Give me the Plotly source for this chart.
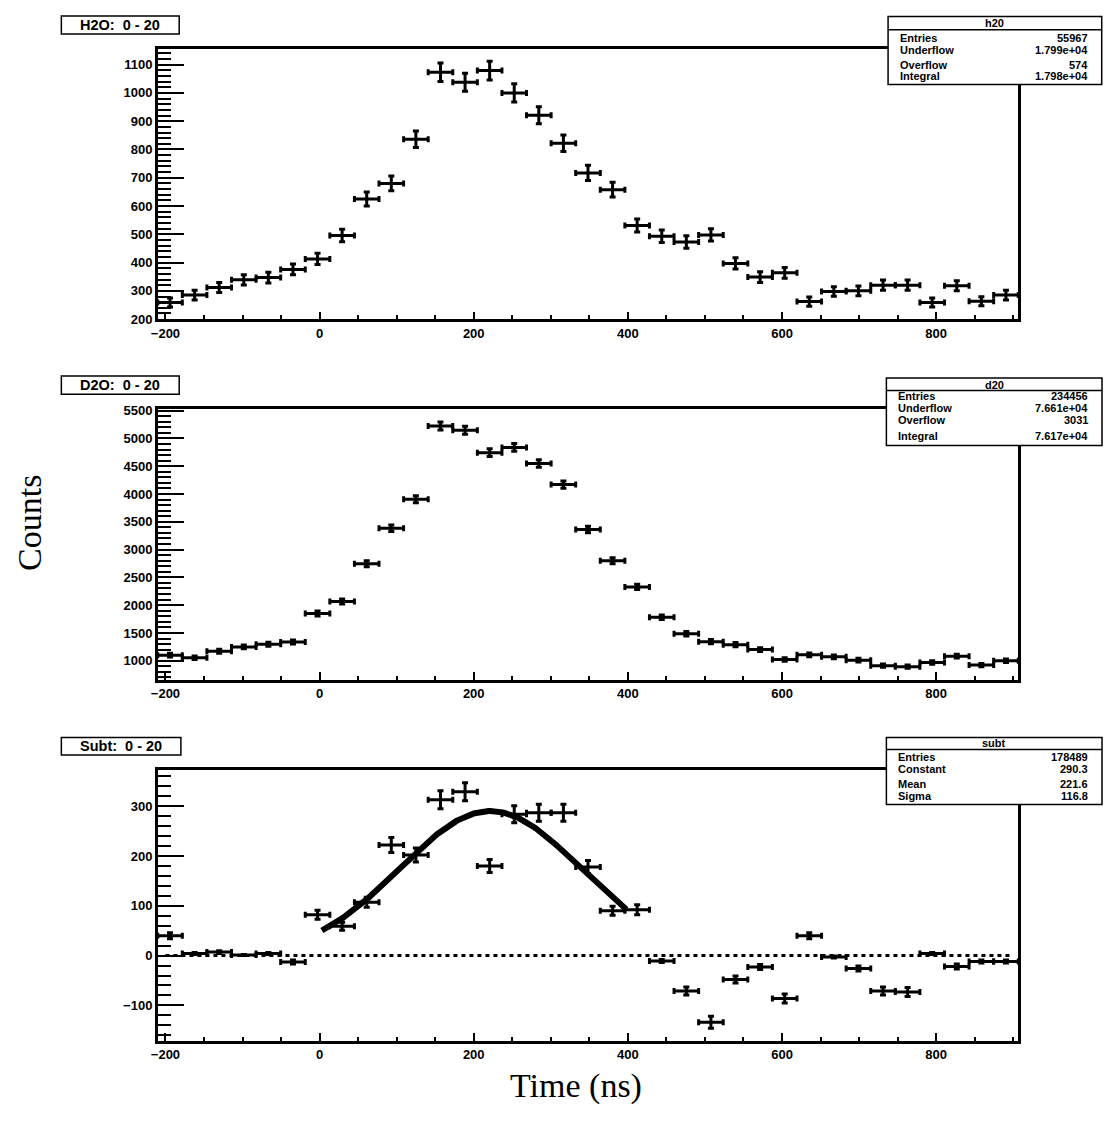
import numpy as np
import plotly.graph_objects as go

W, H = 1104, 1139

# ---------------- data ----------------
BIN_LOW = -210.0
BIN_WIDTH = 31.9
N_BINS = 35

h20_counts = [259, 285, 312, 339, 347, 376, 413, 496, 625, 680, 836, 1073, 1038, 1079, 1000,
              921, 822, 717, 658, 531, 493, 473, 498, 397, 349, 364, 262, 298, 300, 320,
              320, 259, 318, 263, 285]
h20_errors = [16, 17, 18, 18, 19, 19, 20, 22, 25, 26, 29, 33, 32, 33, 32,
              30, 29, 27, 26, 23, 22, 22, 22, 20, 19, 19, 16, 17, 17, 18,
              18, 16, 18, 16, 17]

d20_counts = [1100, 1053, 1171, 1249, 1296, 1338, 1850, 2068, 2745, 3385, 3907, 5225, 5148, 4744, 4838,
              4548, 4169, 3361, 2798, 2328, 1783, 1486, 1343, 1290, 1201, 1023, 1106, 1071, 1011, 911,
              893, 970, 1082, 922, 1000]
d20_errors = [33, 32, 34, 35, 36, 37, 43, 45, 52, 58, 63, 72, 72, 69, 70,
              67, 65, 58, 53, 48, 42, 39, 37, 36, 35, 32, 33, 33, 32, 30,
              30, 31, 33, 30, 32]

subt_counts = [40, 4, 7, 1, 4, -13, 82, 59, 107, 222, 202, 313, 329, 180, 284,
               287, 287, 178, 90, 92, -11, -71, -134, -48, -23, -86, 40, -3, -26, -71,
               -73, 4, -22, -12, -12]
subt_errors = [6, 2, 3, 1, 2, 4, 9, 8, 10, 15, 14, 18, 18, 13, 17,
               17, 17, 13, 9, 10, 3, 8, 12, 7, 5, 9, 6, 2, 5, 8,
               9, 2, 5, 3, 3]

# Gaussian fit result (from stats box)
FIT_CONSTANT = 290.3
FIT_MEAN = 221.6
FIT_SIGMA = 116.8
FIT_RANGE = [3, 398]

ZERO_LINE_X = [-200, 900]

pad_titles = ["H2O:\u00a0\u00a00 - 20", "D2O:\u00a0\u00a00 - 20", "Subt:\u00a0\u00a00 - 20"]
stat_names = ["h20", "d20", "subt"]
stat_labels = [["Entries", "Underflow", "Overflow", "Integral"],
               ["Entries", "Underflow", "Overflow", "Integral"],
               ["Entries", "Constant", "Mean", "Sigma"]]
stat_values = [["55967", "1.799e+04", "574", "1.798e+04"],
               ["234456", "7.661e+04", "3031", "7.617e+04"],
               ["178489", "290.3", "221.6", "116.8"]]

y_ranges = [[199.5, 1156], [655, 5528], [-171, 373]]
y_dticks = [100, 500, 100]
y_minor = [20, 100, 20]
x_range = [BIN_LOW, BIN_LOW + N_BINS * BIN_WIDTH]
X_DTICK, X_MINOR = 200, 50

# ---------------- layout geometry (pixels) ----------------
def px(x):
    return x / W

def py(y):
    return 1 - y / H

frame_x = [151.7, 1017.7]
frame_y = [[43.3, 316.9], [407.7, 681.7], [772.7, 1046.7]]   # top, bottom
title_boxes = [[54.7, 10.0, 173.3, 28.3], [54.7, 374.3, 173.3, 392.7], [54.7, 740.0, 175.0, 757.7]]
stat_boxes = [[886.7, 10.7, 1101.7, 79.3], [885.0, 376.3, 1102.0, 444.7], [885.0, 740.0, 1102.0, 807.7]]
stat_sep = [24.0, 389.0, 752.0]
stat_title_y = [17.5, 383.0, 746.0]
stat_row_y = [[32.0, 44.3, 59.3, 70.7], [394.0, 406.5, 419.0, 434.5], [760.0, 771.7, 786.7, 798.7]]

x_centers = BIN_LOW + BIN_WIDTH * (np.arange(N_BINS) + 0.5)

fig = go.Figure()

series = [(h20_counts, h20_errors), (d20_counts, d20_errors), (subt_counts, subt_errors)]
tickfont = dict(family="Liberation Sans, Arial, sans-serif", size=13, color="black", weight="bold")

def ax_id(letter, n):
    return letter if n == 1 else f"{letter}{n}"

for i, (vals, errs) in enumerate(series):
    fig.add_trace(go.Scatter(
        x=x_centers, y=vals, mode="markers",
        marker=dict(size=1, color="black"),
        error_x=dict(type="constant", value=BIN_WIDTH / 2, thickness=3, width=3, color="black"),
        error_y=dict(type="data", array=errs, thickness=3, width=3, color="black"),
        xaxis=ax_id("x", i + 1), yaxis=ax_id("y", i + 1), showlegend=False, hoverinfo="x+y"))
    # invisible anchor trace for the minor-tick overlay axes
    fig.add_trace(go.Scatter(
        x=[x_centers[0]], y=[vals[0]], mode="markers", marker=dict(size=1, opacity=0),
        xaxis=ax_id("x", i + 4), yaxis=ax_id("y", i + 4), showlegend=False, hoverinfo="skip"))

# zero line in subtraction pad
fig.add_trace(go.Scatter(x=ZERO_LINE_X, y=[0, 0], mode="lines",
                         line=dict(color="black", width=3, dash="4px,4px"),
                         xaxis="x3", yaxis="y3", showlegend=False, hoverinfo="skip"))

# gaussian fit curve
fx = np.linspace(FIT_RANGE[0], FIT_RANGE[1], 200)
fy = FIT_CONSTANT * np.exp(-0.5 * ((fx - FIT_MEAN) / FIT_SIGMA) ** 2)
fig.add_trace(go.Scatter(x=fx, y=fy, mode="lines", line=dict(color="black", width=6),
                         xaxis="x3", yaxis="y3", showlegend=False))

layout = dict(width=W, height=H, margin=dict(l=0, r=0, t=0, b=0),
              paper_bgcolor="white", plot_bgcolor="white", showlegend=False)

for i in range(3):
    n = i + 1
    m = i + 4
    top, bot = frame_y[i]
    layout["xaxis" + ("" if n == 1 else str(n))] = dict(
        domain=[px(frame_x[0]), px(frame_x[1])], anchor=ax_id("y", n), range=x_range,
        tickmode="linear", tick0=0, dtick=X_DTICK,
        ticks="inside", ticklen=8, tickwidth=2, tickcolor="black",
        showline=True, linewidth=2.5, linecolor="black", mirror=True,
        showgrid=False, zeroline=False, tickfont=tickfont)
    layout["yaxis" + ("" if n == 1 else str(n))] = dict(
        domain=[py(bot), py(top)], anchor=ax_id("x", n), range=y_ranges[i],
        tickmode="linear", tick0=0, dtick=y_dticks[i],
        ticks="inside", ticklen=27, tickwidth=2, tickcolor="black",
        showline=True, linewidth=2.5, linecolor="black", mirror=True,
        showgrid=False, zeroline=False, tickfont=tickfont)
    # overlay axes carrying the minor ticks
    layout[f"xaxis{m}"] = dict(
        overlaying=ax_id("x", n), anchor=f"y{m}", side="bottom", range=x_range,
        tickmode="linear", tick0=0, dtick=X_MINOR,
        ticks="inside", ticklen=4, tickwidth=2, tickcolor="black",
        showticklabels=False, showline=False, showgrid=False, zeroline=False)
    layout[f"yaxis{m}"] = dict(
        overlaying=ax_id("y", n), anchor=f"x{m}", side="left", range=y_ranges[i],
        tickmode="linear", tick0=0, dtick=y_minor[i],
        ticks="inside", ticklen=13, tickwidth=2, tickcolor="black",
        showticklabels=False, showline=False, showgrid=False, zeroline=False)

shapes = []
annotations = []
sfont = dict(family="Liberation Sans, Arial, sans-serif", size=11, color="black", weight="bold")
for i in range(3):
    x0, y0, x1, y1 = title_boxes[i]
    shapes.append(dict(type="rect", xref="paper", yref="paper", x0=px(x0), x1=px(x1), y0=py(y1), y1=py(y0),
                       fillcolor="white", line=dict(color="black", width=1.5), layer="above"))
    annotations.append(dict(xref="paper", yref="paper", x=px((x0 + x1) / 2), y=py((y0 + y1) / 2),
                            text=pad_titles[i], showarrow=False, xanchor="center", yanchor="middle",
                            font=dict(family="Liberation Sans, Arial, sans-serif", size=14.5,
                                      color="black", weight="bold")))
    x0, y0, x1, y1 = stat_boxes[i]
    shapes.append(dict(type="rect", xref="paper", yref="paper", x0=px(x0), x1=px(x1), y0=py(y1), y1=py(y0),
                       fillcolor="white", line=dict(color="black", width=1.5), layer="above"))
    shapes.append(dict(type="line", xref="paper", yref="paper", x0=px(x0), x1=px(x1),
                       y0=py(stat_sep[i]), y1=py(stat_sep[i]), line=dict(color="black", width=1.5),
                       layer="above"))
    annotations.append(dict(xref="paper", yref="paper", x=px((x0 + x1) / 2), y=py(stat_title_y[i]),
                            text=stat_names[i], showarrow=False, xanchor="center", yanchor="middle",
                            font=sfont))
    for lab, val, ry in zip(stat_labels[i], stat_values[i], stat_row_y[i]):
        annotations.append(dict(xref="paper", yref="paper", x=px(x0 + 10), y=py(ry), text=lab,
                                showarrow=False, xanchor="left", yanchor="middle", font=sfont))
        annotations.append(dict(xref="paper", yref="paper", x=px(x1 - 12), y=py(ry), text=val,
                                showarrow=False, xanchor="right", yanchor="middle", font=sfont))

serif = dict(family="Liberation Serif, Times New Roman, serif", size=34, color="black")
annotations.append(dict(xref="paper", yref="paper", x=px(22), y=py(523), text="Counts", textangle=-90,
                        showarrow=False, xanchor="center", yanchor="middle", font=serif))
annotations.append(dict(xref="paper", yref="paper", x=px(573), y=py(1092), text="Time (ns)",
                        showarrow=False, xanchor="center", yanchor="middle", font=serif))

layout["shapes"] = shapes
layout["annotations"] = annotations
fig.update_layout(**layout)

fig.write_html("out.html")
